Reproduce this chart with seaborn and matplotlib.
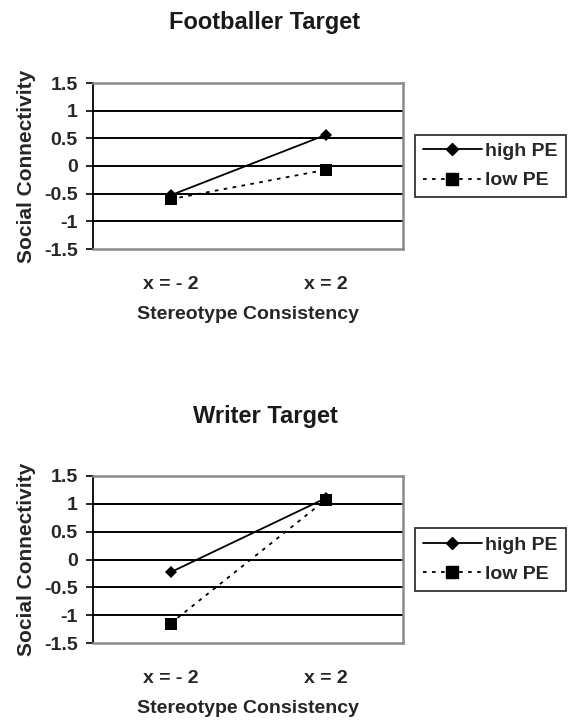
import pandas as pd
import seaborn as sns
import matplotlib.pyplot as plt
from matplotlib.lines import Line2D

# Данные
conditions = ['x = - 2', 'x = 2']
groups = ['high PE', 'low PE']
footballer_high = [-0.53, 0.56]
footballer_low = [-0.60, -0.07]
writer_high = [-0.23, 1.10]
writer_low = [-1.15, 1.07]
y_ticks = [-1.5, -1, -0.5, 0, 0.5, 1, 1.5]
y_tick_labels = ['-1.5', '-1', '-0.5', '0', '0.5', '1', '1.5']

sns.set_style('white')
plt.rcParams['font.family'] = ['Liberation Sans', 'DejaVu Sans']
plt.rcParams['font.weight'] = 'bold'

fig = plt.figure(figsize=(5.68, 7.21), dpi=100)

panels = [
    ('Footballer Target', footballer_high, footballer_low, [93 / 568, 1 - 249 / 721, 310 / 568, 166 / 721], 1 - 23 / 721),
    ('Writer Target', writer_high, writer_low, [93 / 568, 1 - 643 / 721, 310 / 568, 167 / 721], 1 - 417 / 721),
]

for title, high, low, rect, title_y in panels:
    df = pd.DataFrame({
        'cond': conditions * 2,
        'value': high + low,
        'group': [groups[0]] * 2 + [groups[1]] * 2,
    })
    ax = fig.add_axes(rect)
    sns.lineplot(data=df, x='cond', y='value', hue='group', style='group',
                 palette=['black', 'black'],
                 dashes={'high PE': '', 'low PE': (2, 3)},
                 markers={'high PE': 'D', 'low PE': 's'},
                 markersize=7, linewidth=1.3, markeredgewidth=0,
                 legend=False, ax=ax, zorder=3)
    ax.lines[0].set_markersize(6)
    ax.lines[1].set_markersize(8)

    ax.set_xlim(-0.5, 1.5)
    ax.set_ylim(-1.5, 1.5)
    ax.set_yticks(y_ticks)
    ax.set_yticklabels(y_tick_labels, fontsize=14, fontweight='bold')
    ax.set_xticks(range(len(conditions)))
    ax.set_xticklabels(conditions, fontsize=14, fontweight='bold')
    ax.tick_params(axis='y', left=True, length=5, width=1.2, color='black', pad=6)
    ax.tick_params(axis='x', bottom=False, pad=16)

    for y in y_ticks[1:-1]:
        ax.axhline(y, color='black', linewidth=1.4, zorder=1)
    for side in ['top', 'right', 'bottom']:
        ax.spines[side].set_color('#8a8a8a')
        ax.spines[side].set_linewidth(1.8)
    ax.spines['left'].set_color('black')
    ax.spines['left'].set_linewidth(1.3)

    ax.set_xlabel('Stereotype Consistency', fontsize=14, fontweight='bold', labelpad=9)
    ax.set_ylabel('Social Connectivity', fontsize=15, fontweight='bold', labelpad=6)
    fig.text(265 / 568, title_y, title, ha='center', va='center',
             fontsize=17, fontweight='bold', color='#1a1a1a')

    handles = [
        Line2D([], [], color='black', linewidth=1.3, marker='D', markersize=6),
        Line2D([], [], color='black', linewidth=1.3, linestyle=(0, (2, 3)), marker='s', markersize=8),
    ]
    leg = ax.legend(handles, groups, loc='center left', bbox_to_anchor=(1.04, 0.5),
                    frameon=True, fancybox=False, edgecolor='black',
                    prop={'size': 14, 'weight': 'bold'},
                    handlelength=3.0, handletextpad=0.2, borderpad=0.4,
                    labelspacing=0.6, borderaxespad=0)
    leg.get_frame().set_linewidth(1.3)

fig.savefig('out.png', dpi=100)
